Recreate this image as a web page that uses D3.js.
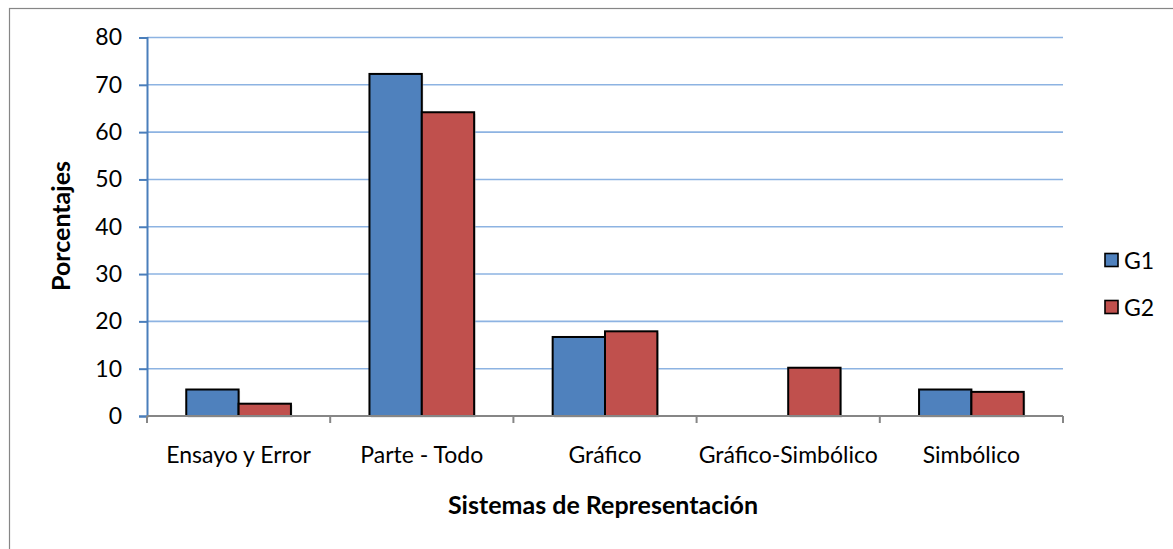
<!DOCTYPE html>
<html>
<head>
<meta charset="utf-8">
<script src="https://cdn.jsdelivr.net/npm/d3@7"></script>
<style>
  body { margin:0; background:#fff; }
  text { font-family: Lato, "Open Sans", sans-serif; fill:#000; }
</style>
</head>
<body>
<div id="chart"></div>
<script>
// data
var categories = ["Ensayo y Error", "Parte - Todo", "Gráfico", "Gráfico-Simbólico", "Simbólico"]
var g1_values = [5.6, 72.3, 16.7, 0, 5.6]
var g2_values = [2.6, 64.2, 17.9, 10.2, 5.1]
var series_names = ["G1", "G2"]
var series_colors = ["#4F81BD", "#C0504D"]
var y_ticks = [0, 10, 20, 30, 40, 50, 60, 70, 80]

var W = 1173, H = 549

var svg = d3.select("#chart").append("svg")
    .attr("width", W)
    .attr("height", H)

// chart area border (right and bottom edges fall outside the picture)
svg.append("rect")
    .attr("x", 9.5).attr("y", 8.5)
    .attr("width", 1200).attr("height", 600)
    .attr("fill", "#fff")
    .attr("stroke", "#868686")
    .attr("stroke-width", 1.2)

var plot = {left: 147, right: 1063, top: 37.5, bottom: 416}

var x = d3.scaleBand()
    .domain(categories)
    .range([plot.left, plot.right])

var y = d3.scaleLinear()
    .domain([0, 80])
    .range([plot.bottom, plot.top])

// gridlines
svg.append("g")
    .selectAll("line")
    .data(y_ticks.filter(function(d){ return d > 0 }))
    .join("line")
    .attr("x1", plot.left).attr("x2", plot.right)
    .attr("y1", function(d){ return y(d) }).attr("y2", function(d){ return y(d) })
    .attr("stroke", "#8DB3E2")
    .attr("stroke-width", 1.6)

// bars, with a little excel style shadow
var bw = x.bandwidth() / 3.5
var rows = []
categories.forEach(function(c, i){
    rows.push({cat:c, s:0, v:g1_values[i]})
    rows.push({cat:c, s:1, v:g2_values[i]})
})
rows = rows.filter(function(d){ return d.v > 0 })

svg.append("g")
    .selectAll("rect")
    .data(rows)
    .join("rect")
    .attr("x", function(d){ return x(d.cat) + bw*0.75 + d.s*bw + 1.5 })
    .attr("y", function(d){ return y(d.v) + 1.5 })
    .attr("width", bw)
    .attr("height", function(d){ return y(0) - y(d.v) })
    .attr("fill", "#bdbdbd")
    .attr("opacity", 0.6)

svg.append("g")
    .selectAll("rect")
    .data(rows)
    .join("rect")
    .attr("x", function(d){ return x(d.cat) + bw*0.75 + d.s*bw })
    .attr("y", function(d){ return y(d.v) })
    .attr("width", bw)
    .attr("height", function(d){ return y(0) - y(d.v) })
    .attr("fill", function(d){ return series_colors[d.s] })
    .attr("stroke", "#000")
    .attr("stroke-width", 2)

// y axis
var yAxis = svg.append("g")
    .attr("transform", "translate(" + plot.left + ",0)")
    .call(d3.axisLeft(y).tickValues(y_ticks).tickSize(8).tickPadding(17))
yAxis.select(".domain").attr("stroke", "#4A7EBB").attr("stroke-width", 2)
yAxis.selectAll(".tick line").attr("stroke", "#4A7EBB").attr("stroke-width", 2)
yAxis.selectAll(".tick text")
    .style("font-size", "23px")
    .style("font-family", "Lato, 'Open Sans', sans-serif")
    .attr("fill", "#000")

// x axis: ticks sit between the categories
var xg = svg.append("g")
var edges = categories.map(function(c){ return x(c) }).concat([plot.right])
xg.append("line")
    .attr("x1", plot.left).attr("x2", plot.right)
    .attr("y1", plot.bottom).attr("y2", plot.bottom)
    .attr("stroke", "#868686")
    .attr("stroke-width", 2)
xg.selectAll(".xt")
    .data(edges)
    .join("line")
    .attr("class", "xt")
    .attr("x1", function(d){ return d }).attr("x2", function(d){ return d })
    .attr("y1", plot.bottom).attr("y2", plot.bottom + 7)
    .attr("stroke", "#868686")
    .attr("stroke-width", 2)
xg.selectAll("text")
    .data(categories)
    .join("text")
    .attr("x", function(d){ return x(d) + x.bandwidth()/2 })
    .attr("y", 463)
    .attr("text-anchor", "middle")
    .style("font-size", "23px")
    .text(function(d){ return d })

// axis titles
svg.append("text")
    .attr("x", 603).attr("y", 514)
    .attr("text-anchor", "middle")
    .style("font-size", "25px")
    .style("font-weight", "bold")
    .text("Sistemas de Representación")

svg.append("text")
    .attr("transform", "translate(60,226) rotate(-90)")
    .attr("text-anchor", "middle")
    .attr("dominant-baseline", "central")
    .style("font-size", "25px")
    .style("font-weight", "bold")
    .text("Porcentajes")

// legend
var legend = svg.append("g")
    .selectAll("g")
    .data(series_names)
    .join("g")
    .attr("transform", function(d, i){ return "translate(1105," + (260 + i*47) + ")" })
legend.append("rect")
    .attr("x", 0).attr("y", -6.5)
    .attr("width", 13).attr("height", 13)
    .attr("fill", function(d, i){ return series_colors[i] })
    .attr("stroke", "#000")
    .attr("stroke-width", 1.6)
legend.append("text")
    .attr("x", 19).attr("y", 0)
    .attr("dominant-baseline", "central")
    .style("font-size", "23px")
    .text(function(d){ return d })
</script>
</body>
</html>
